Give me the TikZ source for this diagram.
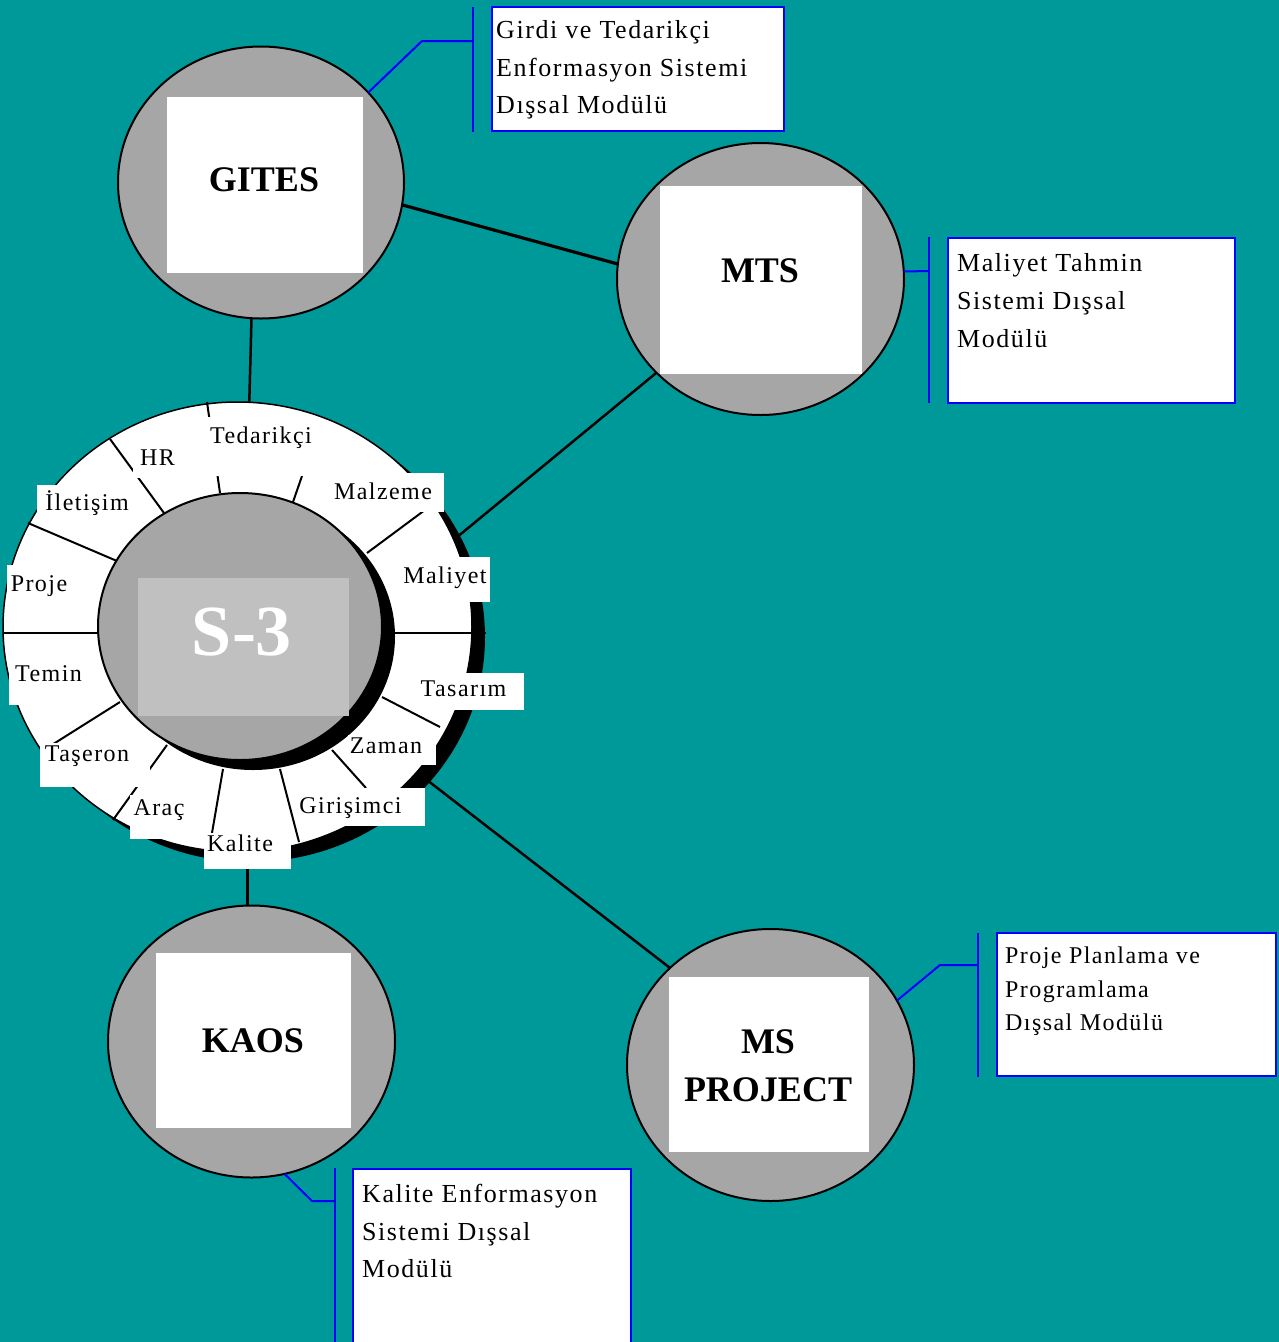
\documentclass[tikz,border=0pt]{standalone}
\usepackage{fontspec}
\setmainfont{Liberation Serif}
\newfontfamily\lsf{Liberation Serif}[LetterSpace=6]
\usetikzlibrary{shapes.geometric}
\definecolor{bgteal}{RGB}{0,153,153}
\definecolor{cgrey}{RGB}{166,166,166}
\definecolor{rgrey}{RGB}{192,192,192}
\definecolor{cblue}{RGB}{0,0,255}
\begin{document}
\begin{tikzpicture}[x=1pt,y=-1pt,
  bigcirc/.style={ellipse,draw=black,line width=2pt,fill=cgrey,minimum width=287pt,minimum height=272pt,inner sep=0pt,outer sep=0pt},
  wbox/.style={rectangle,fill=white,inner sep=0pt,outer sep=0pt},
  bigname/.style={font=\fontsize{36}{40}\selectfont\bfseries,anchor=base,inner sep=0pt},
  lbl/.style={font=\lsf\fontsize{24}{28}\selectfont,anchor=base,inner sep=0pt},
  calltxt/.style={font=\lsf\fontsize{26}{30}\selectfont,anchor=base west,inner sep=0pt},
  calltxtsm/.style={font=\lsf\fontsize{24}{28}\selectfont,anchor=base west,inner sep=0pt},
  callbox/.style={rectangle,draw=cblue,line width=2pt,fill=white,inner sep=0pt,outer sep=0pt},
  bluel/.style={draw=cblue,line width=2pt},
  spoke/.style={draw=black,line width=2pt},
  conn/.style={draw=black,line width=2.5pt}
]
\useasboundingbox (0,0) rectangle (1279,1342);
\fill[bgteal] (0,0) rectangle (1279,1342);

% ---- central ring ----
\node[ellipse,fill=black,minimum width=469pt,minimum height=450pt,inner sep=0pt,outer sep=0pt] (ringshadow) at (250.5,637) {};
\node[ellipse,draw=black,line width=1.5pt,fill=white,minimum width=469pt,minimum height=450pt,inner sep=0pt,outer sep=0pt] (ring) at (237.5,627) {};
\node[ellipse,fill=black,minimum width=284pt,minimum height=267pt,inner sep=0pt] (coreshadow) at (253,636.5) {};
\node[ellipse,draw=black,line width=2pt,fill=cgrey,minimum width=284pt,minimum height=267pt,inner sep=0pt] (core) at (240,626.5) {};
\node[wbox,fill=rgrey,minimum width=211pt,minimum height=138pt] (s3box) at (243.5,647) {};
\node[font=\fontsize{72}{76}\selectfont\bfseries,text=white,anchor=base,inner sep=0pt] (s3) at (242,655) {S-3};

% spokes
\draw[spoke] (207,402) -- (220,493);
\draw[spoke] (110,439) -- (164,513);
\draw[spoke] (302,476) -- (293,502);
\draw[spoke] (433,504) -- (367,553);
\draw[spoke] (28,523) -- (117,561);
\draw[spoke] (3,633) -- (98,633);
\draw[spoke] (395,633) -- (486,633);
\draw[spoke] (120,702) -- (47,748);
\draw[spoke] (382,697) -- (440,727);
\draw[spoke] (167,745) -- (113,820);
\draw[spoke] (332,750) -- (366,788);
\draw[spoke] (223,769) -- (212,833);
\draw[spoke] (280,769) -- (299,842);

% label boxes
\node[wbox,minimum width=115pt,minimum height=59pt] (bTed) at (262.5,446.5) {};
\node[wbox,minimum width=62pt,minimum height=37pt] (bHR) at (164,459.5) {};
\node[wbox,minimum width=120pt,minimum height=39pt] (bMal) at (384,492.5) {};
\node[wbox,minimum width=98pt,minimum height=45pt] (bMaliyet) at (441,579.5) {};
\node[wbox,minimum width=93pt,minimum height=32pt] (bIle) at (83.5,501) {};
\node[wbox,minimum width=65pt,minimum height=35pt] (bPro) at (39.5,582.5) {};
\node[wbox,minimum width=83pt,minimum height=52pt] (bTem) at (50.5,679) {};
\node[wbox,minimum width=110pt,minimum height=44pt] (bTas) at (95,765) {};
\node[wbox,minimum width=70pt,minimum height=44pt] (bArac) at (165,817) {};
\node[wbox,minimum width=87pt,minimum height=36pt] (kalite) at (247.5,851) {};
\node[wbox,minimum width=128pt,minimum height=38pt] (bGir) at (361,807) {};
\node[wbox,minimum width=88pt,minimum height=30pt] (bZam) at (392,750) {};
\node[wbox,minimum width=109pt,minimum height=37pt] (bTasa) at (469.5,691.5) {};

\node[lbl] (tTed) at (261,443) {Tedarikçi};
\node[lbl] (tHR) at (157.5,465.5) {HR};
\node[lbl] (tMal) at (383,499) {Malzeme};
\node[lbl] (tMaliyet) at (445,583) {Maliyet};
\node[lbl] (tIle) at (87,510) {İletişim};
\node[lbl] (tPro) at (39,591.5) {Proje};
\node[lbl] (tTem) at (48.5,681) {Temin};
\node[lbl] (tTas) at (87,761.5) {Taşeron};
\node[lbl] (tArac) at (159,815) {Araç};
\node[lbl] (tKal) at (240,851.5) {Kalite};
\node[lbl] (tGir) at (350.5,813) {Girişimci};
\node[lbl] (tZam) at (386,753) {Zaman};
\node[lbl] (tTasa) at (463.5,696.5) {Tasarım};

% ---- satellite modules ----
\node[bigcirc,minimum width=286pt] (gites) at (261,182.5) {};
\node[wbox,minimum width=196pt,minimum height=176pt] (gitesbox) at (265,185) {};
\node[bigname] (gitestxt) at (264,191.5) {GITES};

\node[bigcirc] (mts) at (760.5,279) {};
\node[wbox,minimum width=202pt,minimum height=188pt] (mtsbox) at (761,280) {};
\node[bigname] (mtstxt) at (760,282.5) {MTS};

\node[bigcirc] (kaos) at (251.5,1041.5) {};
\node[wbox,minimum width=195pt,minimum height=175pt] (kaosbox) at (253.5,1040.5) {};
\node[bigname] (kaostxt) at (253,1052.5) {KAOS};

\node[bigcirc] (msp) at (770.5,1065) {};
\node[wbox,minimum width=200pt,minimum height=175pt] (mspbox) at (769,1064.5) {};
\node[bigname] (msptxt1) at (768,1053) {MS};
\node[bigname] (msptxt2) at (768,1101) {PROJECT};

% ---- connectors ----
\draw[conn,line width=3.2pt] (gites.-9) -- (mts.174);
\draw[conn] (gites.-94) -- (ring.87);
\draw[conn] (mts.222.5) -- (ringshadow.26.4);
\draw[conn] (ringshadow.-39.8) -- (msp.136.9);
\draw[conn] (kalite.south) -- (kalite.south |- kaos.north);

% ---- callouts ----
\node[callbox,minimum width=292pt,minimum height=124pt] (cGites) at (638,69) {};
\coordinate (gbarT) at (473,7);
\coordinate (gbarB) at (473,132);
\coordinate (gbend) at (422,41);
\coordinate (gjoin) at (473,41);
\draw[bluel] (gbarT) -- (gbarB);
\draw[bluel] (gites.40) -- (gbend) -- (gjoin);
\node[calltxt] (cg1) at (496,38) {Girdi ve Tedarikçi};
\node[calltxt] (cg2) at (496,76) {Enformasyon Sistemi};
\node[calltxt] (cg3) at (496,113) {Dışsal Modülü};

\node[callbox,minimum width=287pt,minimum height=165pt] (cMts) at (1091.5,320.5) {};
\coordinate (mbarT) at (929,237);
\coordinate (mbarB) at (929,403);
\coordinate (mjoin) at (929,271);
\draw[bluel] (mbarT) -- (mbarB);
\draw[bluel] (mts.3) -- (mjoin);
\node[calltxt] (cm1) at (957,271) {Maliyet Tahmin};
\node[calltxt] (cm2) at (957,309) {Sistemi Dışsal};
\node[calltxt] (cm3) at (957,347) {Modülü};

\node[callbox,minimum width=279pt,minimum height=143pt] (cMsp) at (1136.5,1004.5) {};
\coordinate (pbarT) at (978,933);
\coordinate (pbarB) at (978,1077);
\coordinate (pbend) at (940,965);
\coordinate (pjoin) at (978,965);
\draw[bluel] (pbarT) -- (pbarB);
\draw[bluel] (msp.27) -- (pbend) -- (pjoin);
\node[calltxtsm] (cp1) at (1005,963) {Proje Planlama ve};
\node[calltxtsm] (cp2) at (1005,997) {Programlama};
\node[calltxtsm] (cp3) at (1005,1030) {Dışsal Modülü};

\node[callbox,minimum width=278pt,minimum height=191pt] (cKaos) at (492,1264.5) {};
\coordinate (kbarT) at (335,1168);
\coordinate (kbarB) at (335,1350);
\coordinate (kbend) at (312,1201);
\coordinate (kjoin) at (335,1201);
\draw[bluel] (kbarT) -- (kbarB);
\draw[bluel] (kaos.-76) -- (kbend) -- (kjoin);
\node[calltxt] (ck1) at (362,1202) {Kalite Enformasyon};
\node[calltxt] (ck2) at (362,1240) {Sistemi Dışsal};
\node[calltxt] (ck3) at (362,1277) {Modülü};
\end{tikzpicture}
\end{document}
